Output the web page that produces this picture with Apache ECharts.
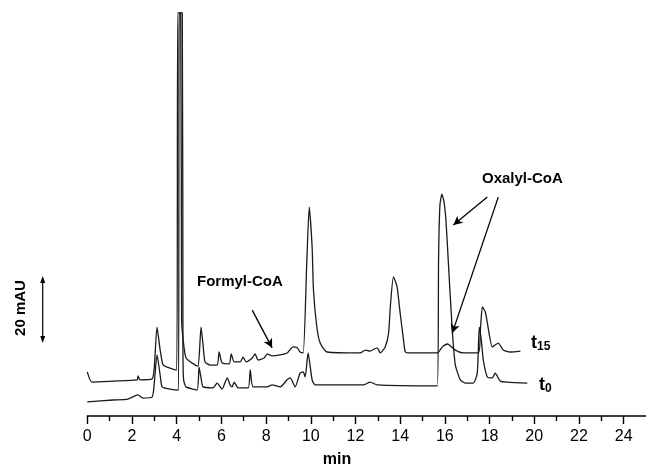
<!DOCTYPE html>
<html>
<head>
<meta charset="utf-8">
<title>HPLC chromatogram t0 / t15</title>
<script src="https://cdn.jsdelivr.net/npm/echarts@6.0.0/dist/echarts.min.js"></script>
<style>
  body { margin: 0; background: #fff; }
  #main { width: 646px; height: 468px; }
</style>
</head>
<body>
<div id="main"></div>
<script>
// retention time (min) vs absorbance (mAU)
const t15Trace = [
  [0.0, 13.8], [0.21, 10.6], [1.15, 10.9], [2.23, 11.3], [2.27, 12.5], [2.36, 11.3],
  [2.9, 11.6], [2.99, 14.4], [3.12, 27.8], [3.26, 20.6], [3.39, 15.9], [3.57, 15.3],
  [4.0, 14.4], [4.05, 126], [4.18, 126], [4.22, 30], [4.29, 23.8], [4.42, 18.1],
  [4.83, 15.9], [4.96, 15.6], [5.09, 27.8], [5.18, 22.2], [5.27, 16.9], [5.5, 15.9],
  [5.81, 15.9], [5.9, 20.0], [6.03, 16.6], [6.35, 16.3], [6.44, 19.4], [6.57, 16.9],
  [6.84, 16.9], [6.97, 18.4], [7.11, 16.9], [7.38, 18.1], [7.51, 19.4], [7.64, 17.5],
  [7.91, 18.1], [8.05, 19.4], [8.27, 18.8], [8.63, 19.1], [8.94, 19.7], [9.21, 21.6],
  [9.39, 21.3], [9.52, 20.0], [9.66, 19.7], [9.82, 47.8], [9.93, 65.3], [10.06, 52.8],
  [10.12, 39.4], [10.27, 27.8], [10.42, 22.8], [10.73, 20.0], [12.21, 19.7], [12.44, 20.6],
  [12.66, 20.3], [12.97, 21.3], [13.11, 19.7], [13.33, 21.6], [13.48, 25.8], [13.56, 34.2],
  [13.7, 43.5], [13.86, 40.4], [14.0, 32.1], [14.15, 23.8], [14.23, 20.1], [14.45, 19.7],
  [15.66, 19.7], [15.89, 21.6], [16.11, 22.5], [16.47, 20.6], [16.82, 19.7], [17.5, 19.7],
  [17.59, 26.9], [17.68, 34.1], [17.81, 32.5], [17.9, 29.1], [18.12, 21.6], [18.25, 22.2],
  [18.39, 22.8], [18.61, 20.6], [18.93, 20.0], [19.38, 20.3]
];

const t0Trace = [
  [0.0, 4.4], [1.15, 5.0], [1.82, 5.3], [2.27, 6.6], [2.49, 5.6], [2.9, 5.9],
  [2.99, 9.7], [3.12, 19.1], [3.26, 12.8], [3.35, 9.1], [3.7, 8.4], [4.08, 8.1],
  [4.115, 126], [4.25, 126], [4.28, 20], [4.31, 11.3], [4.42, 9.1],
  [4.91, 8.1], [5.0, 15.3], [5.09, 11.9], [5.18, 9.1], [5.63, 8.8], [5.81, 10.3],
  [6.03, 8.4], [6.26, 11.9], [6.39, 9.7], [6.48, 9.1], [6.57, 10.6], [6.75, 8.8],
  [7.2, 8.8], [7.29, 14.4], [7.42, 9.1], [8.05, 9.1], [8.27, 9.7], [8.63, 9.1],
  [8.94, 11.3], [9.08, 11.9], [9.3, 9.1], [9.52, 13.4], [9.66, 13.8], [9.75, 12.2],
  [9.88, 19.7], [10.06, 11.3], [10.2, 9.7], [12.35, 9.7], [12.66, 10.6], [12.97, 9.7],
  [15.66, 9.4], [15.72, 50], [15.78, 66], [15.87, 69.3], [15.96, 67], [16.05, 61],
  [16.15, 48.8], [16.33, 26.9], [16.47, 15.9], [16.69, 11.3], [16.91, 10.3], [17.27, 10.3],
  [17.45, 13.4], [17.54, 27.8], [17.63, 23.8], [17.72, 17.5], [17.9, 12.2], [18.12, 11.9],
  [18.25, 13.4], [18.48, 10.9], [18.79, 10.6], [19.69, 10.3]
];

const majorTicks = [0, 2, 4, 6, 8, 10, 12, 14, 16, 18, 20, 22, 24];
const minorTicks = [1, 3, 5, 7, 9, 11, 13, 15, 17, 19, 21, 23];

// annotation arrows [from, to] in (min, mAU)
const formylArrow = [[7.38, 33.1], [8.27, 21.3]];
const oxalylArrows = [
  [[17.9, 68.4], [16.38, 59.7]],
  [[18.39, 68.4], [16.33, 25.9]]
];

const FONT = '"Liberation Sans", Arial, sans-serif';

function arrowLine(pair) {
  return [{ coord: pair[0] }, { coord: pair[1] }];
}

const chart = echarts.init(document.getElementById('main'));
chart.setOption({
  animation: false,
  backgroundColor: '#fff',
  grid: { left: 87.3, right: 0, top: 0, bottom: 52 },
  xAxis: [{
    type: 'value', min: 0, max: 25,
    splitLine: { show: false },
    axisLine: { lineStyle: { color: '#000', width: 1.6 } },
    axisTick: { customValues: majorTicks, length: 8, lineStyle: { color: '#000', width: 1.4 } },
    axisLabel: { customValues: majorTicks, margin: 13, color: '#000', fontSize: 16, fontFamily: FONT }
  }, {
    type: 'value', min: 0, max: 25, position: 'bottom',
    splitLine: { show: false },
    axisLine: { show: false },
    axisTick: { customValues: minorTicks, length: 5, lineStyle: { color: '#000', width: 1.4 } },
    axisLabel: { show: false }
  }],
  yAxis: { type: 'value', min: 0, max: 130, show: false },
  series: [{
    name: 't15', type: 'line', data: t15Trace, showSymbol: false,
    smooth: 0.2,
    lineStyle: { color: '#1a1a1a', width: 1.3 },
    markLine: {
      silent: true, symbol: ['none', 'arrow'], symbolSize: [7, 9],
      label: { show: false },
      lineStyle: { color: '#000', width: 1.3, type: 'solid' },
      data: [arrowLine(formylArrow)].concat(oxalylArrows.map(arrowLine))
    }
  }, {
    name: 't0', type: 'line', data: t0Trace, showSymbol: false,
    smooth: 0.2,
    lineStyle: { color: '#1a1a1a', width: 1.3 }
  }],
  graphic: [
    { type: 'text', left: 197, top: 274, style: { text: 'Formyl-CoA', font: 'bold 15px ' + FONT, fill: '#000' } },
    { type: 'text', left: 482, top: 171, style: { text: 'Oxalyl-CoA', font: 'bold 15px ' + FONT, fill: '#000' } },
    { type: 'text', left: 531, top: 334, style: {
        text: '{t|t}{s|15}', fill: '#000',
        rich: { t: { font: 'bold 18px ' + FONT }, s: { font: 'bold 12px ' + FONT, padding: [8, 0, 0, 0] } }
    } },
    { type: 'text', left: 539, top: 376, style: {
        text: '{t|t}{s|0}', fill: '#000',
        rich: { t: { font: 'bold 18px ' + FONT }, s: { font: 'bold 12px ' + FONT, padding: [8, 0, 0, 0] } }
    } },
    { type: 'text', x: 21, y: 308, rotation: Math.PI / 2, style: {
        text: '20 mAU', font: 'bold 15px ' + FONT, fill: '#000', align: 'center', verticalAlign: 'middle'
    } },
    { type: 'line', shape: { x1: 42.7, y1: 280, x2: 42.7, y2: 339 }, style: { stroke: '#000', lineWidth: 1.2 } },
    { type: 'polygon', shape: { points: [[42.7, 276], [40.2, 283], [45.2, 283]] }, style: { fill: '#000' } },
    { type: 'polygon', shape: { points: [[42.7, 343], [40.2, 336], [45.2, 336]] }, style: { fill: '#000' } },
    { type: 'text', x: 337, y: 460, style: {
        text: 'min', font: 'bold 16px ' + FONT, fill: '#000', align: 'center', verticalAlign: 'middle'
    } }
  ]
});
</script>
</body>
</html>
